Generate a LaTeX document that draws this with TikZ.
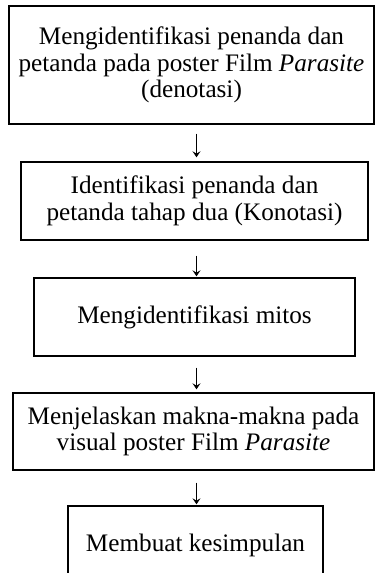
\documentclass[tikz,border=0pt]{standalone}
\usepackage{fontspec}
\setmainfont{Liberation Serif}
\usetikzlibrary{positioning, arrows.meta}

\begin{document}
\begin{tikzpicture}[x=0.5pt, y=-0.5pt,
  box/.style={draw, line width=0.7pt, align=center, inner sep=0pt,
    font=\fontsize{12.6}{13.2}\selectfont},
  flow/.style={-{Stealth[length=3pt,width=4pt,inset=1.2pt]}, line width=0.6pt}]

\useasboundingbox (0,0) rectangle (375,573);
\clip (0,0) rectangle (375,573);

\node[box, minimum width=182.5pt, minimum height=59pt] (mark) at (191.5,65)
  {Mengidentifikasi penanda dan\\ petanda pada poster Film \textit{Parasite}\\ (denotasi)};
\node[box, minimum width=173.5pt, minimum height=39pt] (konot) at (194.5,201)
  {Identifikasi penanda dan\\ petanda tahap dua (Konotasi)};
\node[box, minimum width=160.5pt, minimum height=39pt] (mitos) at (194.5,317)
  {Mengidentifikasi mitos};
\node[box, minimum width=180.5pt, minimum height=38.5pt] (makna) at (193.5,431.5)
  {Menjelaskan makna-makna pada\\ visual poster Film \textit{Parasite}};
\node[box, minimum width=127.5pt, minimum height=39pt] (simpul) at (195.5,545)
  {Membuat kesimpulan};

\coordinate (axis) at (196.5,0);

\draw[flow, shorten <=4.5pt, shorten >=2pt] (mark.south -| axis) -- (konot.north -| axis);
\draw[flow, shorten <=7.5pt, shorten >=0.5pt] (konot.south -| axis) -- (mitos.north -| axis);
\draw[flow, shorten <=5.5pt, shorten >=1.5pt] (mitos.south -| axis) -- (makna.north -| axis);
\draw[flow, shorten <=6pt, shorten >=0.5pt] (makna.south -| axis) -- (simpul.north -| axis);

\end{tikzpicture}
\end{document}
